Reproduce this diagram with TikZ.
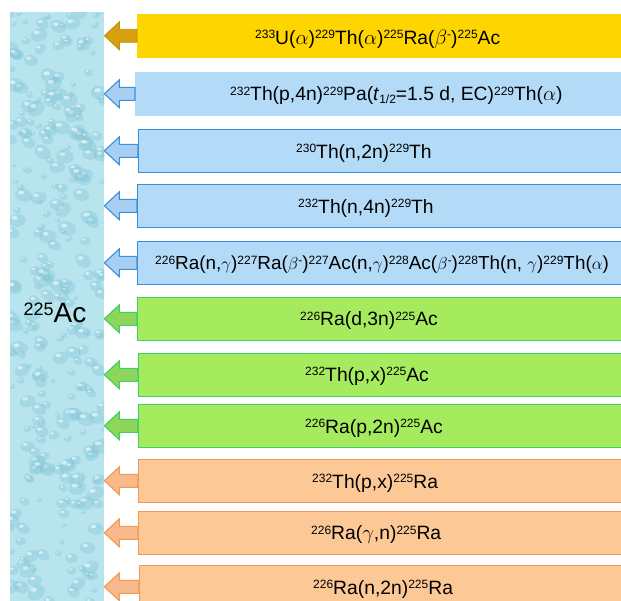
\documentclass[tikz,border=0pt]{standalone}
\usepackage{fontspec}
\setmainfont{Liberation Sans}
\usetikzlibrary{calc}

\definecolor{colBg}{HTML}{B8E4EE}
\definecolor{dropDark}{HTML}{7FC3D6}
\definecolor{barGold}{HTML}{FFD500}
\definecolor{arrGold}{HTML}{D6A00E}
\definecolor{barBlue}{HTML}{B3DBF8}
\definecolor{lineBlue}{HTML}{3A8FDD}
\definecolor{arrBlue}{HTML}{A8CEF2}
\definecolor{barGreen}{HTML}{A6EA5E}
\definecolor{lineGreen}{HTML}{3DD068}
\definecolor{arrGreen}{HTML}{8ED65A}
\definecolor{barOrange}{HTML}{FCC895}
\definecolor{lineOrange}{HTML}{F29A55}
\definecolor{arrOrange}{HTML}{F9B98A}

\newcommand{\iso}[1]{\raisebox{5.3pt}{\fontsize{12}{12}\selectfont #1}}
\newcommand{\lowidx}[1]{\raisebox{-3pt}{\fontsize{12}{12}\selectfont #1}}

\begin{document}
\begin{tikzpicture}[x=1pt,y=-1pt,
  bar/.style={rectangle,anchor=north west,minimum width=500,minimum height=42.5,inner sep=0pt,line width=1.1pt},
  bargold/.style={bar,fill=barGold,draw=barGold},
  barblue/.style={bar,fill=barBlue,draw=lineBlue},
  bargreen/.style={bar,fill=barGreen,draw=lineGreen},
  barorange/.style={bar,fill=barOrange,draw=lineOrange},
  arrgold/.style={fill=arrGold,draw=arrGold!90!black,line width=0.8pt},
  arrblue/.style={fill=arrBlue,draw=lineBlue,line width=1.1pt},
  arrgreen/.style={fill=arrGreen,draw=lineGreen,line width=1.1pt},
  arrorange/.style={fill=arrOrange,draw=lineOrange,line width=1.1pt},
  lbl/.style={anchor=base west,inner sep=0pt,font=\fontsize{19.3}{23}\selectfont},
  block/.style={to path={($(\tikztostart)+(0,-6.5)$) -- ($(\tikztotarget)+(15,-6.5)$) -- ($(\tikztotarget)+(15,-14)$) -- (\tikztotarget) -- ($(\tikztotarget)+(15,14)$) -- ($(\tikztotarget)+(15,6.5)$) -- ($(\tikztostart)+(0,6.5)$) -- cycle}}]
  \useasboundingbox (0,0) rectangle (621,600);

  %column
  \node[rectangle,anchor=north west,minimum width=94,minimum height=600,inner sep=0pt,fill=colBg] (col) at (10,12) {};
  \begin{scope}
    \clip (col.north west) rectangle (col.south east);
    \pgfmathsetseed{11}
    \foreach \i in {1,...,300}{
      \pgfmathsetmacro{\px}{10+94*rnd}
      \pgfmathsetmacro{\py}{12+590*rnd}
      \pgfmathsetmacro{\rr}{2.5+7*rnd}
      \pgfmathsetmacro{\rt}{-40+80*rnd}
      \fill[dropDark,opacity=0.35,rotate around={\rt:(\px,\py)}] (\px,\py) ellipse ({\rr pt} and {0.75*\rr pt});
      \fill[white,opacity=0.55] (\px-0.3*\rr,\py-0.3*\rr) ellipse ({0.35*\rr pt} and {0.22*\rr pt});
    }
  \end{scope}
  \node[anchor=base,inner sep=0pt,font=\fontsize{28}{30}\selectfont] (ac) at (55,322) {\raisebox{7pt}{\fontsize{18}{18}\selectfont 225}Ac};

  %gold bar
  \node[bargold] (b1) at (137,14) {};
  \node[lbl] (t1) at (255,44) {\iso{233}U($\alpha$)\iso{229}Th($\alpha$)\iso{225}Ra($\beta$\iso{-})\iso{225}Ac};

  %blue bars
  \node[barblue,draw=barBlue] (b2) at (135,72) {};
  \node[lbl] (t2) at (230,100.5) {\iso{232}Th(p,4n)\iso{229}Pa(\textit{t}\lowidx{1/2}=1.5 d, EC)\iso{229}Th($\alpha$)};
  \node[barblue] (b3) at (138,129) {};
  \node[lbl] (t3) at (296,158) {\iso{230}Th(n,2n)\iso{229}Th};
  \node[barblue] (b4) at (137,184) {};
  \node[lbl] (t4) at (298,213) {\iso{232}Th(n,4n)\iso{229}Th};
  \node[barblue] (b5) at (137,241) {};
  \node[lbl,font=\fontsize{18.9}{23}\selectfont] (t5) at (155,269.5) {\iso{226}Ra(n,$\gamma$)\iso{227}Ra($\beta$\iso{-})\iso{227}Ac(n,$\gamma$)\iso{228}Ac($\beta$\iso{-})\iso{228}Th(n, $\gamma$)\iso{229}Th($\alpha$)};

  %green bars
  \node[bargreen] (b6) at (137,297) {};
  \node[lbl] (t6) at (300,325.5) {\iso{226}Ra(d,3n)\iso{225}Ac};
  \node[bargreen] (b7) at (138,353) {};
  \node[lbl] (t7) at (305,381) {\iso{232}Th(p,x)\iso{225}Ac};
  \node[bargreen] (b8) at (138,404) {};
  \node[lbl] (t8) at (305,433) {\iso{226}Ra(p,2n)\iso{225}Ac};

  %orange bars
  \node[barorange] (b9) at (138,459) {};
  \node[lbl] (t9) at (312,488) {\iso{232}Th(p,x)\iso{225}Ra};
  \node[barorange] (b10) at (138,511) {};
  \node[lbl] (t10) at (311,539.5) {\iso{226}Ra($\gamma$,n)\iso{225}Ra};
  \node[barorange] (b11) at (139,565) {};
  \node[lbl] (t11) at (313,594) {\iso{226}Ra(n,2n)\iso{225}Ra};

  %arrows
  \draw[arrgold,block] (b1.west) to (col.east |- b1.west);
  \draw[arrblue,block] (b2.west) to (col.east |- b2.west);
  \draw[arrblue,block] (b3.west) to (col.east |- b3.west);
  \draw[arrblue,block] (b4.west) to (col.east |- b4.west);
  \draw[arrblue,block] (b5.west) to (col.east |- b5.west);
  \draw[arrgreen,block] (b6.west) to (col.east |- b6.west);
  \draw[arrgreen,block] (b7.west) to (col.east |- b7.west);
  \draw[arrgreen,block] (b8.west) to (col.east |- b8.west);
  \draw[arrorange,block] (b9.west) to (col.east |- b9.west);
  \draw[arrorange,block] (b10.west) to (col.east |- b10.west);
  \draw[arrorange,block] (b11.west) to (col.east |- b11.west);
\end{tikzpicture}
\end{document}
